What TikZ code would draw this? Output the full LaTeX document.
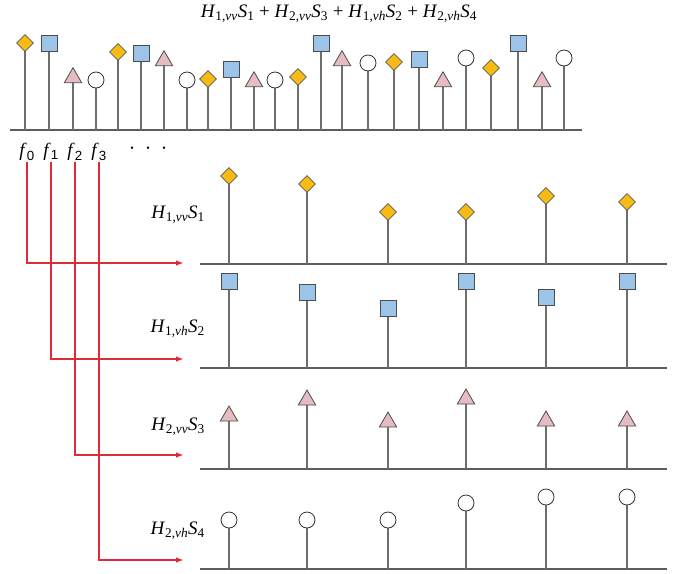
\documentclass[tikz,border=0pt]{standalone}
\usepackage{fontspec}
\setmainfont{Liberation Serif}
\setsansfont{Liberation Sans}
\usetikzlibrary{shapes.geometric,arrows.meta}
\definecolor{gold}{HTML}{F7BB14}
\definecolor{sky}{HTML}{9CC3E8}
\definecolor{rose}{HTML}{E6BCC3}
\definecolor{sigred}{HTML}{E02A36}
\definecolor{stemgray}{HTML}{6E6E6E}
\newcommand{\HS}[3]{\textit{H}\textsubscript{#1,\textit{#2}}\textit{S}\textsubscript{#3}}
\newcommand{\fk}[1]{\textit{f}\textsubscript{\sffamily #1}}

\begin{document}
\begin{tikzpicture}[x=1pt,y=-1pt,
  stem/.style={draw=stemgray,line width=1.4},
  ground/.style={draw=stemgray!85!black,line width=1.8},
  dia/.style={diamond,draw=black!65,fill=gold,inner sep=0,minimum size=17pt,line width=0.8},
  sq/.style={rectangle,draw=black!70,fill=sky,inner sep=0,minimum size=16pt,line width=0.8},
  tri/.style={regular polygon,regular polygon sides=3,draw=black!70,fill=rose,inner sep=0,minimum size=20pt,line width=0.8},
  cir/.style={circle,draw=black!80,fill=white,inner sep=0,minimum size=16pt,line width=0.8},
  lbl/.style={font=\fontsize{19}{22}\selectfont,inner sep=1pt},
  feed/.style={draw=sigred,line width=2.1,-{Latex[length=8pt,width=5.5pt]}}]
\useasboundingbox (0,0) rectangle (685,573);

% sum of all four components
\node[lbl] (sum) at (339,14) {\HS{1}{vv}{1} + \HS{2}{vv}{3} + \HS{1}{vh}{2} + \HS{2}{vh}{4}};
\draw[ground] (10,130) -- (582,130);
\foreach \x/\y [count=\i] in {25/43,118/52,208/79,298/77,394/62,491/68}
  \draw[stem] (\x,130) -- (\x,\y) node[dia] (td\i) {};
\foreach \x/\y [count=\i] in {49/43,141/53,231/69,321/43,419/59,518/43}
  \draw[stem] (\x,130) -- (\x,\y) node[sq] (ts\i) {};
\foreach \x/\y [count=\i] in {73/77.7,164/60.7,254/81.7,342/60.7,443/81.7,542/81.7}
  \draw[stem] (\x,130) -- (\x,\y) node[tri] (tt\i) {};
\foreach \x/\y [count=\i] in {96/80,187/80,275/80,368/63,466/58,564/58}
  \draw[stem] (\x,130) -- (\x,\y) node[cir] (tc\i) {};

\node[lbl] (f0) at (27,152) {\fk{0}};
\node[lbl] (f1) at (51,152) {\fk{1}};
\node[lbl] (f2) at (75,152) {\fk{2}};
\node[lbl] (f3) at (99,152) {\fk{3}};
\node (dots) at (148,149) {\fontsize{10}{10}\selectfont\textbullet\hspace{12.5pt}\textbullet\hspace{12.5pt}\textbullet};

% separated components
\draw[ground] (200,264) -- (667,264);
\foreach \x/\y [count=\i] in {229/176,307/184,388/212,466/212,546/196,627/202}
  \draw[stem] (\x,264) -- (\x,\y) node[dia] (d\i) {};
\draw[ground] (200,368) -- (667,368);
\foreach \x/\y [count=\i] in {229/281,307/292,388/308,466/281,546/297,627/281}
  \draw[stem] (\x,368) -- (\x,\y) node[sq] (s\i) {};
\draw[ground] (200,469) -- (667,469);
\foreach \x/\y [count=\i] in {229/416,307/400,388/422,466/399,546/421,627/421}
  \draw[stem] (\x,469) -- (\x,\y) node[tri] (t\i) {};
\draw[ground] (200,569) -- (667,569);
\foreach \x/\y [count=\i] in {229/520,307/520,388/520,466/503,546/497,627/497}
  \draw[stem] (\x,569) -- (\x,\y) node[cir] (c\i) {};

\node[lbl,anchor=east] (l1) at (206,215) {\HS{1}{vv}{1}};
\node[lbl,anchor=east] (l2) at (206,329) {\HS{1}{vh}{2}};
\node[lbl,anchor=east] (l3) at (206,427) {\HS{2}{vv}{3}};
\node[lbl,anchor=east] (l4) at (206,531) {\HS{2}{vh}{4}};

\coordinate (a0) at (184,263);
\coordinate (a1) at (184,359);
\coordinate (a2) at (184,455);
\coordinate (a3) at (184,560);
\draw[feed] (f0.south) |- (a0);
\draw[feed] (f1.south) |- (a1);
\draw[feed] (f2.south) |- (a2);
\draw[feed] (f3.south) |- (a3);
\end{tikzpicture}
\end{document}
